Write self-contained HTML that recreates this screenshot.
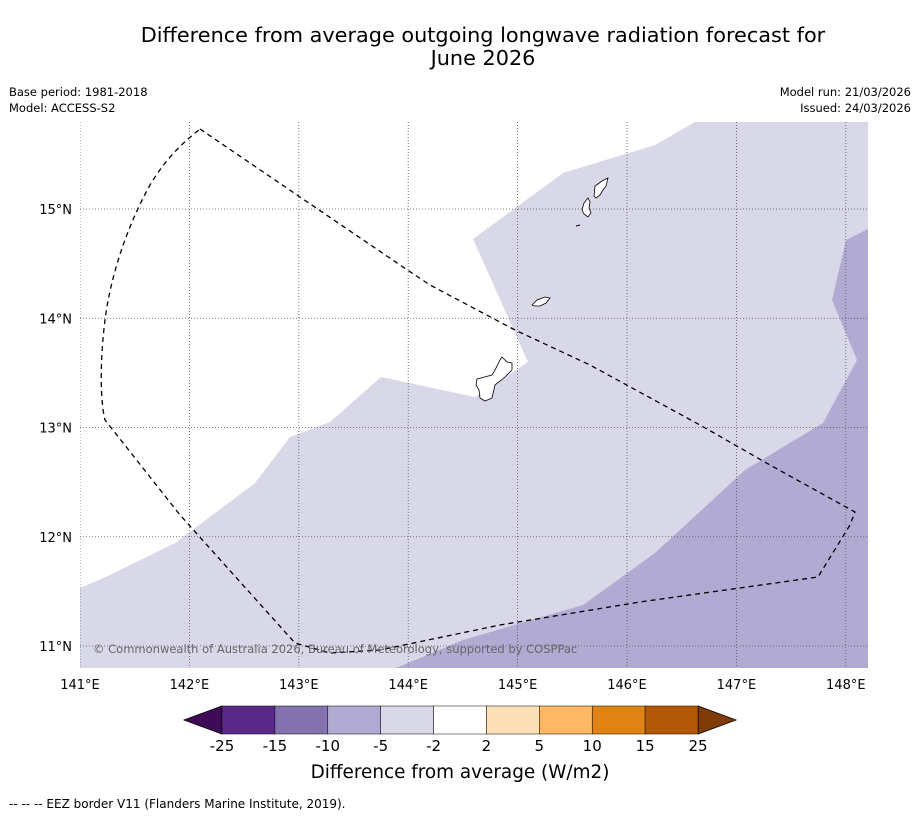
<!DOCTYPE html>
<html><head><meta charset="utf-8">
<style>
body{margin:0;background:#fff;font-family:"DejaVu Sans",sans-serif;}
svg text{font-family:"DejaVu Sans",sans-serif;}
</style></head>
<body>
<svg id="chart" width="919" height="816" viewBox="0 0 919 816" xmlns="http://www.w3.org/2000/svg">
<rect width="919" height="816" fill="#fff"/>
<text x="483" y="42" text-anchor="middle" font-size="20.8">Difference from average outgoing longwave radiation forecast for</text>
<text x="483" y="65" text-anchor="middle" font-size="20.8">June 2026</text>
<text x="9" y="96" font-size="11.5">Base period: 1981-2018</text>
<text x="9" y="112" font-size="11.5">Model: ACCESS-S2</text>
<text x="911" y="96" font-size="11.5" text-anchor="end">Model run: 21/03/2026</text>
<text x="911" y="112" font-size="11.5" text-anchor="end">Issued: 24/03/2026</text>
<defs><clipPath id="mapclip"><rect x="80" y="122" width="788" height="546"/></clipPath></defs>
<g clip-path="url(#mapclip)">
<path fill="#d8d8e9" d="M80,588 L108,576 L175,543 L255,483 L290,437 L330,422 L381,377 L475,397 L528,362 L473,239 L563,173 L655,145 L695,122 L868,122 L868,668 L80,668 Z"/>
<path fill="#b1abd3" d="M396,668 L463,640 L583,605 L655,553 L745,470 L823,423 L857,360 L832,300 L846,240 L868,229 L868,668 Z"/>
<g id="grid"></g>
<path fill="none" stroke="#000" stroke-width="1.3" stroke-dasharray="5,4" d="M200,129 L300,197 L400,265 L430,285 L515,330 L590,365 L700,425 L770,465 L855,512 L850,525 L818,577 L640,602 L500,625 L380,650 L330,653 L295,643 L180,515 L105,420 C100,400 100,360 105,320 C110,280 125,230 150,185 C165,160 180,145 200,129 Z"/>
<path fill="#fff" stroke="#000" stroke-width="0.8" d="M477,379 L492,375 L495,370 L500,360 L502,357 L507,362 L512,363 L512,370 L505,377 L495,385 L492,398 L485,401 L480,398 L479,390 L476,385 Z"/>
<path fill="#fff" stroke="#000" stroke-width="0.8" d="M532,305 L537,300 L545,297 L550,298 L546,303 L540,306 L535,306 Z"/>
<path fill="#fff" stroke="#000" stroke-width="0.8" d="M582,210 L584,203 L588,198 L590,202 L589,208 L591,213 L588,217 L584,214 Z"/>
<path fill="#fff" stroke="#000" stroke-width="0.8" d="M594,196 L595,186 L602,181 L608,178 L606,186 L603,190 L600,195 L596,198 Z"/>
<path fill="none" stroke="#000" stroke-width="1" d="M576,226 L580,225"/>
</g>
<text x="93" y="653" font-size="11.5" fill="#666">© Commonwealth of Australia 2026, Bureau of Meteorology, supported by COSPPac</text>
<g id="axes"></g>
<g id="cbar"></g>
<text x="460" y="778" text-anchor="middle" font-size="18.4">Difference from average (W/m2)</text>
<text x="9" y="808" font-size="12">--  --  -- EEZ border V11 (Flanders Marine Institute, 2019).</text>
</svg>
<script>
const lonTicks=[141,142,143,144,145,146,147,148];
const latTicks=[11,12,13,14,15];
const cbarLevels=[-25,-15,-10,-5,-2,2,5,10,15,25];
const cbarColors=['#5a2a8a','#8472ae','#b1abd3','#d8d8e9','#ffffff','#fee0b6','#fdb863','#e08214','#b35806'];
const ns='http://www.w3.org/2000/svg';
function xLon(l){return 80+(l-141)*109.4;}
function yLat(l){return 646-(l-11)*109.25;}
function mk(t,a,p){const e=document.createElementNS(ns,t);for(const k in a)e.setAttribute(k,a[k]);p.appendChild(e);return e;}
const grid=document.getElementById('grid'),axes=document.getElementById('axes'),cb=document.getElementById('cbar');
lonTicks.forEach(l=>{const x=xLon(l);
 const g=mk('line',{x1:x,x2:x,y1:122,y2:668,stroke:'#555','stroke-width':0.8,'stroke-dasharray':'1,2'},grid);
 
 
 const t=mk('text',{x:x,y:689,'text-anchor':'middle','font-size':13},axes);t.textContent=l+'°E';
 
 });
latTicks.forEach(l=>{const y=yLat(l);
 const g=mk('line',{x1:80,x2:868,y1:y,y2:y,stroke:'#555','stroke-width':0.8,'stroke-dasharray':'1,2'},grid);
 
 
 const t=mk('text',{x:72,y:y+5,'text-anchor':'end','font-size':13},axes);t.textContent=l+'°N';
 
 });
const cx0=222,cw=(698-222)/cbarColors.length,cy=706,ch=28;
const lt=mk('polygon',{points:`${cx0},${cy} ${cx0},${cy+ch} 184,${cy+ch/2}`,fill:'#3f0a57',stroke:'#000','stroke-width':0.8},cb);


const rt=mk('polygon',{points:`698,${cy} 698,${cy+ch} 736,${cy+ch/2}`,fill:'#7f3b08',stroke:'#000','stroke-width':0.8},cb);


cbarColors.forEach((c,i)=>{const r=mk('rect',{x:cx0+i*cw,y:cy,width:cw,height:ch,fill:c,stroke:'#000','stroke-width':0.5},cb);
 
 });
cbarLevels.forEach((v,i)=>{const t=mk('text',{x:cx0+i*cw,y:751,'text-anchor':'middle','font-size':15},cb);t.textContent=v;
 
 });
</script>
</body></html>
